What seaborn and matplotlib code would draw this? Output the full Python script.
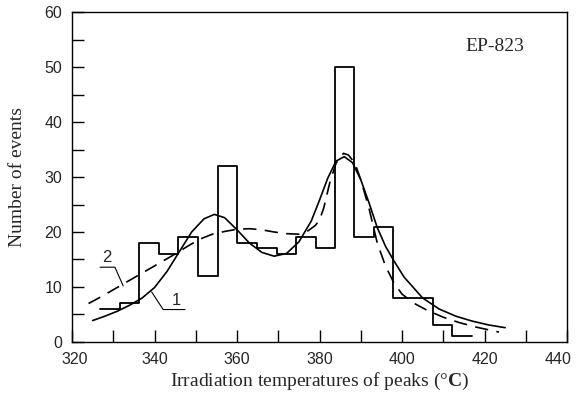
import numpy as np
import pandas as pd
import matplotlib
matplotlib.use("Agg")
import matplotlib.pyplot as plt
import matplotlib.transforms as mtransforms
import seaborn as sns

# histogram of peak temperatures (bin edges and counts)
bin_edges = [326.8, 331.6, 336.3, 341.0, 345.8, 350.6, 355.4, 360.1, 364.8, 369.6,
             374.2, 379.1, 383.8, 388.4, 393.3, 397.9, 402.7, 407.4, 412.1, 417.0]
counts = [6, 7, 18, 16, 19, 12, 32, 18, 17, 16, 19, 17, 50, 19, 21, 8, 8, 3, 1]

# curve 1 (solid)
fit1_x = [325, 328, 331, 334, 337, 340, 343, 346, 349, 352, 354.5, 357, 360, 363, 366,
          369, 372, 375, 378, 380, 382, 384, 386, 388, 390, 392, 394, 396, 398, 400.5,
          405, 409, 413, 417, 421, 425]
fit1_y = [3.9, 4.7, 5.6, 6.7, 8.0, 9.9, 12.8, 16.4, 20.0, 22.4, 23.2, 22.6, 20.4, 18.0, 16.3,
          15.6, 16.1, 18.2, 22.0, 25.8, 29.8, 32.9, 33.7, 32.6, 29.5, 25.3, 20.8, 17.4, 14.8, 11.8,
          8.0, 6.0, 4.7, 3.8, 3.1, 2.6]

# curve 2 (dashed)
fit2_x = [324, 327, 330, 333, 336, 339, 342, 345, 348, 351, 354, 357, 360, 363, 366,
          369, 372, 375, 377, 379, 380, 381, 382.5, 384, 385.8, 387, 388.6, 390, 392,
          394, 396, 398, 400, 403, 406, 410, 414, 418, 423.5]
fit2_y = [7.0, 8.2, 9.5, 10.8, 12.1, 13.4, 14.7, 16.0, 17.4, 18.7, 19.6, 20.1, 20.5, 20.6, 20.4,
          20.0, 19.7, 19.6, 20.1, 21.2, 22.2, 24.3, 29.0, 32.5, 34.3, 34.0, 32.5, 29.5, 24.3,
          18.0, 13.8, 10.8, 8.7, 7.0, 5.8, 4.5, 3.5, 2.7, 1.8]

sns.set_style("ticks")
plt.rcParams["font.family"] = ["Liberation Sans", "DejaVu Sans"]
plt.rcParams["mathtext.fontset"] = "custom"
plt.rcParams["mathtext.rm"] = "Liberation Serif"
plt.rcParams["mathtext.bf"] = "Liberation Serif:bold"

fig = plt.figure(figsize=(5.79, 3.94), dpi=100)
ax = fig.add_axes([0.1244, 0.132, 0.8549, 0.8375])

hist = pd.DataFrame({"T": bin_edges, "n": counts + [counts[-1]]})
sns.lineplot(data=hist, x="T", y="n", drawstyle="steps-post", color="black",
             lw=1.3, ax=ax, estimator=None)
sns.lineplot(x=fit1_x, y=fit1_y, color="black", lw=1.2, ax=ax, estimator=None, sort=False)
sns.lineplot(x=fit2_x, y=fit2_y, color="black", lw=1.2, ax=ax, estimator=None, sort=False,
             dashes=False, linestyle=(0, (8, 5)))

# leader lines for curve labels
ax.plot([326.8, 330.4, 332.4], [13.6, 13.6, 10.2], color="black", lw=0.8)
ax.text(328.4, 14.0, "2", fontsize=12, ha="center", va="bottom")
ax.plot([339.3, 342.1, 347.4], [9.1, 5.9, 5.9], color="black", lw=0.8)
ax.text(345.2, 6.2, "1", fontsize=12, ha="center", va="bottom")

ax.text(422.5, 53.7, "EP-823", fontsize=14, family="Liberation Serif",
        ha="center", va="center")

ax.set_xlim(320, 440)
ax.set_ylim(0, 60)
ax.set_xticks(np.arange(320, 441, 20))
ax.set_xticks(np.arange(330, 440, 20), minor=True)
ax.set_yticks(np.arange(0, 61, 10))
ax.set_yticks(np.arange(5, 60, 10), minor=True)
ax.tick_params(which="both", direction="in", length=8.5, width=1.0, color="black",
               top=False, right=False, labelsize=11.5, pad=7)

# end labels sit slightly inwards, as in the original
xlabels = ax.get_xticklabels()
xlabels[0].set_transform(xlabels[0].get_transform() +
                         mtransforms.ScaledTranslation(3 / 100, 0, fig.dpi_scale_trans))
xlabels[-1].set_transform(xlabels[-1].get_transform() +
                          mtransforms.ScaledTranslation(-9 / 100, 0, fig.dpi_scale_trans))

for s in ax.spines.values():
    s.set_linewidth(1.0)
    s.set_color("black")

ax.set_xlabel(r"Irradiation temperatures of peaks (°$\mathbf{C}$)", fontsize=14,
              family="Liberation Serif", labelpad=3)
ax.set_ylabel("Number of events", fontsize=14, family="Liberation Serif", labelpad=13)

fig.savefig("out.png", dpi=100)
